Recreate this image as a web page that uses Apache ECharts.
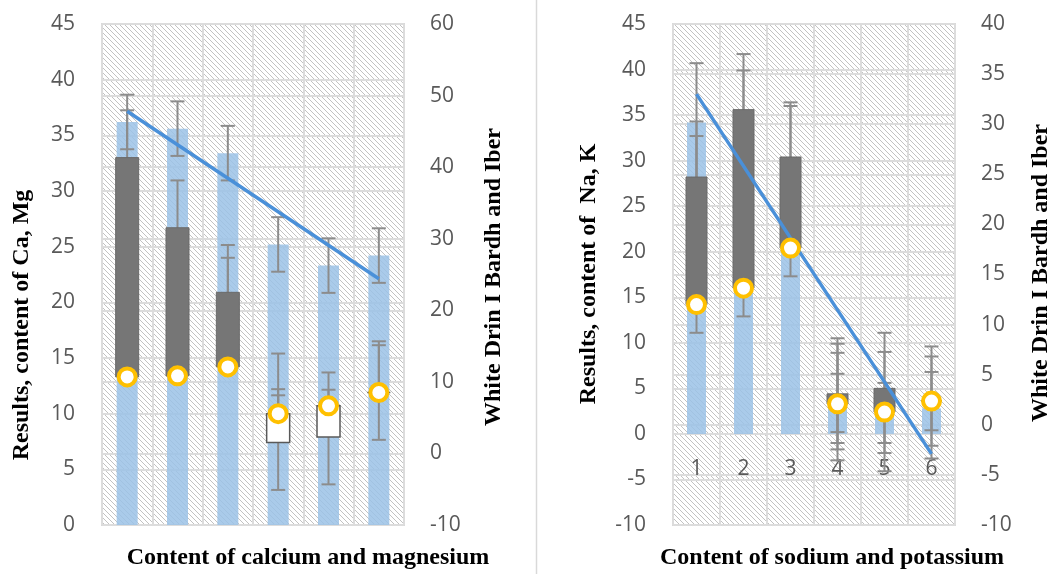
<!DOCTYPE html>
<html>
<head>
<meta charset="utf-8">
<script src="https://cdn.jsdelivr.net/npm/echarts@6/dist/echarts.min.js"></script>
<style>
html,body{margin:0;padding:0;background:#fff;}
#c{width:1060px;height:574px;}
</style>
</head>
<body>
<div id="c"></div>
<script>
// ---------- data ----------
const cats = ['1', '2', '3', '4', '5', '6'];

// left chart: calcium and magnesium
const caBlue  = [36.2, 35.6, 33.4, 25.2, 23.3, 24.2];
const caOpen  = [33.0, 26.7, 20.9, 7.4, 7.9, 11.9];
const caClose = [13.3, 13.4, 14.2, 10.0, 10.7, 11.9];
const caTrend = [47.8, null, null, null, null, 24.4];
const caErrA = [[33.75, 38.65], [33.15, 38.05], [30.95, 35.85], [22.75, 27.65], [20.85, 25.75], [21.75, 26.65]];
const caErrB = [[28.75, 37.25], [22.45, 30.95], [16.65, 25.15], [3.15, 11.65], [3.65, 12.15], [7.65, 16.15]];
const caErrC = [null, null, [14.2, 24.0], [10.0, 15.4], [10.7, 13.7], [11.9, 16.5]];
const caErrD = [null, null, null, [10.0, 12.2], null, null];
const caLeftRange = [0, 45, 5];
const caRightRange = [-10, 60, 10];

// right chart: sodium and potassium
const naBlue  = [34.2, 35.2, 29.9, 3.8, 3.0, 2.8];
const naOpen  = [28.2, 35.6, 30.4, 4.4, 5.0, 3.6];
const naClose = [14.2, 16.0, 20.4, 3.3, 2.4, 3.6];
const naTrend = [33.0, null, null, null, null, -2.9];
const naErrA = [[27.7, 40.7], [28.7, 41.7], [23.4, 36.4], [-2.9, 10.5], [-4.1, 11.1], [-2.7, 9.6]];
const naErrB = [[23.7, 32.7], [31.3, 39.9], [24.8, 36.0], [-1.7, 9.9], [-2.1, 9.0], [-1.3, 8.5]];
const naErrC = [[11.1, 17.3], [12.9, 19.1], [17.3, 23.5], [-1.0, 8.9], [-1.0, 5.6], [0.4, 6.8]];
const naErrD = [[24.0, 34.3], null, null, [0.2, 6.6], null, null];
const naLeftRange = [-10, 45, 5];
const naRightRange = [-10, 40, 5];

const titles = {
  caY: 'Results, content of Ca, Mg',
  caY2: 'White Drin I Bardh and Iber',
  caX: 'Content of calcium and magnesium',
  naY: 'Results, content of  Na, K',
  naY2: 'White Drin I Bardh and Iber',
  naX: 'Content of sodium and potassium'
};

// ---------- layout / styling ----------
const PLOT_TOP = 24, PLOT_H = 501;

function hatchCanvas() {
  const s = 5;
  const c = document.createElement('canvas');
  c.width = s; c.height = s;
  const g = c.getContext('2d');
  g.fillStyle = '#ffffff';
  g.fillRect(0, 0, s, s);
  g.strokeStyle = '#c2c2c2';
  g.lineWidth = 1;
  g.beginPath();
  g.moveTo(-1, -1); g.lineTo(s + 1, s + 1);
  g.moveTo(s - 1, -1); g.lineTo(s + 1, 1);
  g.moveTo(-1, s - 1); g.lineTo(1, s + 1);
  g.stroke();
  return c;
}
const hatch = { image: hatchCanvas(), repeat: 'repeat' };

const LABEL_FONT = '"Open Sans", "Liberation Sans", sans-serif';
const TITLE_FONT = 'bold 24px "Liberation Serif", "DejaVu Serif", serif';
const GRID_COLOR = '#dcdcdc';
const ERR_COLOR = '#8c8c8c';

function whiskerData(sets) {
  const out = [];
  sets.forEach(set => set.forEach((v, i) => { if (v) out.push([i, v[0], v[1]]); }));
  return out;
}
function updownData(open, close) {
  return open.map((o, i) => [i, o, close[i]]);
}

function yAxisDef(gridIdx, range, side) {
  return {
    type: 'value', gridIndex: gridIdx, position: side,
    min: range[0], max: range[1], interval: range[2],
    axisLine: { show: false }, axisTick: { show: false },
    axisLabel: { color: '#595959', fontSize: 21, fontFamily: LABEL_FONT, margin: side === 'left' ? 27 : 26 },
    splitLine: { show: true, lineStyle: { color: GRID_COLOR, width: 2 } }
  };
}

function seriesFor(xIdx, yL, yR, blue, errSets, open, close, trend, barW, udW) {
  return [
    {
      type: 'bar', xAxisIndex: xIdx, yAxisIndex: yL, data: blue, barWidth: barW, z: 2,
      itemStyle: { color: 'rgba(155,194,230,0.85)' }, silent: true
    },
    {
      type: 'custom', xAxisIndex: xIdx, yAxisIndex: yL, z: 3, clip: false, silent: true,
      data: whiskerData(errSets),
      encode: { x: 0, y: [1, 2] },
      renderItem: function (params, api) {
        const x = api.value(0);
        const top = api.coord([x, api.value(2)]);
        const bot = api.coord([x, api.value(1)]);
        const w = 7;
        const st = { stroke: ERR_COLOR, lineWidth: 2 };
        return {
          type: 'group', children: [
            { type: 'line', shape: { x1: top[0], y1: top[1], x2: bot[0], y2: bot[1] }, style: st },
            { type: 'line', shape: { x1: top[0] - w, y1: top[1], x2: top[0] + w, y2: top[1] }, style: st },
            { type: 'line', shape: { x1: bot[0] - w, y1: bot[1], x2: bot[0] + w, y2: bot[1] }, style: st }
          ]
        };
      }
    },
    {
      type: 'custom', xAxisIndex: xIdx, yAxisIndex: yL, z: 4, clip: false, silent: true,
      data: updownData(open, close),
      encode: { x: 0, y: [1, 2] },
      renderItem: function (params, api) {
        const x = api.value(0), o = api.value(1), c = api.value(2);
        const p1 = api.coord([x, Math.max(o, c)]);
        const p2 = api.coord([x, Math.min(o, c)]);
        const down = o > c;
        return {
          type: 'rect',
          shape: { x: p1[0] - udW / 2, y: p1[1], width: udW, height: Math.max(0, p2[1] - p1[1]) },
          style: down ? { fill: '#767676', stroke: '#6a6a6a', lineWidth: 1 }
                      : { fill: '#ffffff', stroke: '#595959', lineWidth: 1.5 }
        };
      }
    },
    {
      type: 'line', xAxisIndex: xIdx, yAxisIndex: yR, data: trend, connectNulls: true,
      symbol: 'none', z: 5, silent: true,
      lineStyle: { color: '#4a90d9', width: 3.5 }
    },
    {
      type: 'scatter', xAxisIndex: xIdx, yAxisIndex: yL, data: close, z: 6, silent: true,
      symbol: 'circle', symbolSize: 17,
      itemStyle: { color: '#ffffff', borderColor: '#ffc000', borderWidth: 4, opacity: 1 }
    }
  ];
}

// category axis of the right chart crosses its left value axis at 0
const naZeroOffset = -PLOT_H * (0 - naLeftRange[0]) / (naLeftRange[1] - naLeftRange[0]);

const chart = echarts.init(document.getElementById('c'), null, { renderer: 'canvas' });

const option = {
  animation: false,
  backgroundColor: '#ffffff',
  grid: [
    { left: 102, top: PLOT_TOP, width: 302, height: PLOT_H, show: true, backgroundColor: hatch, borderColor: '#d9d9d9', borderWidth: 2 },
    { left: 673, top: PLOT_TOP, width: 282, height: PLOT_H, show: true, backgroundColor: hatch, borderColor: '#d9d9d9', borderWidth: 2 }
  ],
  xAxis: [
    {
      type: 'category', gridIndex: 0, data: cats,
      axisLine: { show: false }, axisTick: { show: false }, axisLabel: { show: false },
      splitLine: { show: true, lineStyle: { color: GRID_COLOR, width: 2 } }
    },
    {
      type: 'category', gridIndex: 1, data: cats, position: 'bottom', offset: naZeroOffset,
      axisLine: { show: false, onZero: false }, axisTick: { show: false },
      axisLabel: { color: '#595959', fontSize: 21, fontFamily: LABEL_FONT, margin: 25 },
      splitLine: { show: true, lineStyle: { color: GRID_COLOR, width: 2 } }
    }
  ],
  yAxis: [
    yAxisDef(0, caLeftRange, 'left'),
    yAxisDef(0, caRightRange, 'right'),
    yAxisDef(1, naLeftRange, 'left'),
    yAxisDef(1, naRightRange, 'right')
  ],
  series: [].concat(
    seriesFor(0, 0, 1, caBlue, [caErrA, caErrB, caErrC, caErrD], caOpen, caClose, caTrend, 21, 23),
    seriesFor(1, 2, 3, naBlue, [naErrA, naErrB, naErrC, naErrD], naOpen, naClose, naTrend, 19, 21)
  ),
  graphic: [
    { type: 'line', silent: true, shape: { x1: 536.5, y1: 0, x2: 536.5, y2: 574 }, style: { stroke: '#d9d9d9', lineWidth: 1.5 } },
    { type: 'text', silent: true, x: 22, y: 325, rotation: Math.PI / 2, style: { text: titles.caY, font: TITLE_FONT, fill: '#000', textAlign: 'center', textVerticalAlign: 'middle' } },
    { type: 'text', silent: true, x: 494, y: 277, rotation: Math.PI / 2, style: { text: titles.caY2, font: TITLE_FONT, fill: '#000', textAlign: 'center', textVerticalAlign: 'middle' } },
    { type: 'text', silent: true, x: 308, y: 558, style: { text: titles.caX, font: TITLE_FONT, fill: '#000', textAlign: 'center', textVerticalAlign: 'middle' } },
    { type: 'text', silent: true, x: 589, y: 274, rotation: Math.PI / 2, style: { text: titles.naY, font: TITLE_FONT, fill: '#000', textAlign: 'center', textVerticalAlign: 'middle' } },
    { type: 'text', silent: true, x: 1041, y: 273, rotation: Math.PI / 2, style: { text: titles.naY2, font: TITLE_FONT, fill: '#000', textAlign: 'center', textVerticalAlign: 'middle' } },
    { type: 'text', silent: true, x: 832, y: 558, style: { text: titles.naX, font: TITLE_FONT, fill: '#000', textAlign: 'center', textVerticalAlign: 'middle' } }
  ]
};
chart.setOption(option);
</script>
</body>
</html>
